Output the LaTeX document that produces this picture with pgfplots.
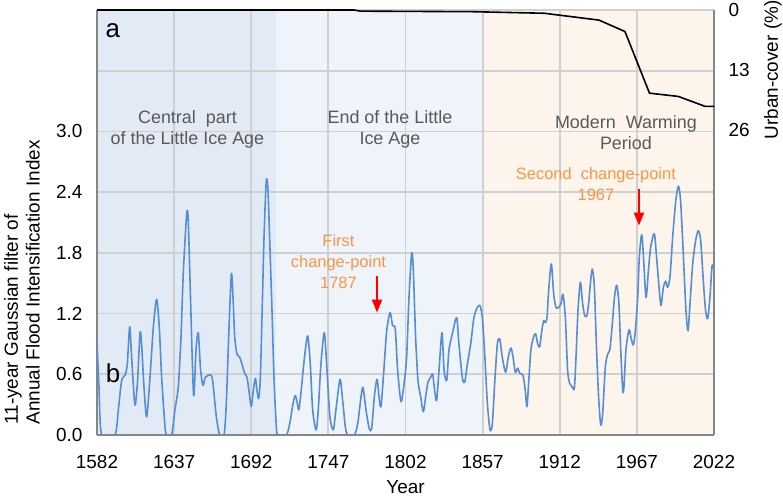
\documentclass[border=0pt]{standalone}
\usepackage{pgfplots}
\pgfplotsset{compat=1.18}
\usepackage{fontspec}
\setmainfont{Liberation Sans}
\usetikzlibrary{arrows.meta}
\definecolor{regA}{RGB}{226,234,245}
\definecolor{regB}{RGB}{239,243,250}
\definecolor{regC}{RGB}{253,244,236}
\definecolor{gridgray}{RGB}{208,208,208}
\definecolor{axisgray}{RGB}{134,134,134}
\definecolor{lineblue}{RGB}{85,142,213}
\definecolor{txtgray}{RGB}{89,89,89}
\definecolor{orangetxt}{RGB}{247,150,70}
\newcommand{\lab}{\fontsize{19}{22}\selectfont}
\begin{document}
\begin{tikzpicture}
\useasboundingbox (0,0) rectangle (783bp,498bp);
% background periods and grid
\begin{axis}[
  at={(97bp,63bp)}, anchor=south west,
  width=617bp, height=425bp, scale only axis,
  xmin=1582, xmax=2022, ymin=0, ymax=4.2,
  axis line style={draw=none},
  xtick={1582,1637,1692,1747,1802,1857,1912,1967,2022},
  ytick={0,0.6,1.2,1.8,2.4,3.0,3.6,4.2},
  xticklabels={}, yticklabels={},
  major tick length=0pt,
  xmajorgrids=true, ymajorgrids=true,
  major grid style={draw=gridgray, line width=1.8bp},
  axis on top,
]
\addplot[fill=regA, draw=none] coordinates {(1582,0) (1582,4.2) (1710,4.2) (1710,0)};
\addplot[fill=regB, draw=none] coordinates {(1710,0) (1710,4.2) (1857,4.2) (1857,0)};
\addplot[fill=regC, draw=none] coordinates {(1857,0) (1857,4.2) (2022,4.2) (2022,0)};
\end{axis}

\begin{axis}[
  at={(97bp,63bp)}, anchor=south west,
  width=617bp, height=425bp, scale only axis,
  xmin=1582, xmax=2022, ymin=0, ymax=4.2,
  axis x line*=bottom, axis y line*=left,
  axis line style={draw=axisgray, line width=1.3bp},
  xtick={1582,1637,1692,1747,1802,1857,1912,1967,2022},
  xticklabels={1582,1637,1692,1747,1802,1857,1912,1967,2022},
  ytick={0,0.6,1.2,1.8,2.4,3.0,3.6,4.2},
  yticklabels={0.0,0.6,1.2,1.8,2.4,3.0,{},{}},
  major tick length=0pt,
  tick label style={font=\lab, text=black},
  xticklabel style={yshift=-17bp},
  yticklabel style={xshift=-11bp},
  xlabel={Year},
  xlabel style={font=\lab, at={(axis description cs:0.5,-0.1224)}, anchor=center},
  ylabel={11-year Gaussian filter of\\Annual Flood Intensification Index},
  ylabel style={font=\lab, align=left, at={(axis description cs:-0.1216,0.0165)}, anchor=west},
]
\addplot[lineblue, line width=1.6bp, smooth, tension=0.45, line join=round] coordinates {
(1582,0.92) (1583.4,0.48) (1585.3,0) (1594.8,0) (1597.2,0.25) (1599.6,0.54) (1602,0.59) (1603.6,0.70)
(1605.3,1.07) (1606.7,0.77) (1609,0.30) (1610.8,0.51) (1612.7,1.01) (1613.8,0.90) (1615.5,0.48) (1617.4,0.18)
(1619.8,0.57) (1622.2,1.07) (1624.5,1.34) (1626.4,1.07) (1628.1,0.57) (1630.5,0.08) (1631.7,0) (1635.2,0)
(1637.6,0.25) (1640,0.48) (1641.9,0.97) (1643.6,1.62) (1646,2.19) (1647.1,2.11) (1648.8,1.30) (1650.9,0.39)
(1652.6,0.84) (1654.2,1.01) (1655.9,0.64) (1657.6,0.49) (1659.2,0.57) (1661.2,0.59) (1663.5,0.59) (1664.7,0.51)
(1667.1,0.18) (1669.5,0) (1672.6,0) (1674.2,0.31) (1675.9,0.97) (1677.8,1.59) (1679,1.36) (1680.2,0.97)
(1681.8,0.80) (1683.7,0.77) (1685.4,0.70) (1687.3,0.61) (1689,0.57) (1690.4,0.43) (1692,0.28) (1693.2,0.41)
(1694.9,0.56) (1696.1,0.44) (1697.3,0.36) (1698.5,0.57) (1699.9,1.30) (1701.1,1.95) (1702.7,2.51) (1703.9,2.43)
(1705.1,1.95) (1706.8,1.23) (1708.2,0.57) (1709.9,0.08) (1711,0) (1717,0) (1719.4,0.11) (1721.8,0.31)
(1723.4,0.39) (1724.9,0.31) (1726,0.25) (1727.7,0.45) (1729.6,0.72) (1732.2,0.98) (1734.1,0.70) (1735.8,0.25)
(1738.2,0.05) (1739.8,0.25) (1741.7,0.70) (1744.1,1.01) (1746,0.64) (1748.1,0.18) (1750.5,0.05) (1752.4,0.25)
(1755.3,0.55) (1757.2,0.34) (1759.1,0.08) (1760.7,0) (1765.5,0) (1767.9,0.11) (1770.3,0.38) (1771.7,0.47)
(1773.8,0.25) (1776.2,0.06) (1777.9,0.07) (1779.8,0.38) (1781.7,0.55) (1783.1,0.38) (1784.5,0.28) (1786.4,0.61)
(1788.6,1.03) (1791,1.21) (1792.8,1.08) (1794.7,1.05) (1796.4,0.64) (1798.8,0.33) (1801,0.51) (1802.8,0.77)
(1804.5,1.36) (1806.4,1.80) (1807.6,1.62) (1809.2,0.97) (1810.9,0.54) (1812.8,0.38) (1814.7,0.23) (1816.4,0.38)
(1818,0.52) (1819.9,0.57) (1821.4,0.60) (1822.8,0.44) (1824.2,0.34) (1825.9,0.64) (1828,1.01) (1829.5,0.64)
(1831.4,0.54) (1833,0.84) (1835.4,1.0) (1838.5,1.16) (1840.1,0.90) (1842.5,0.57) (1844.2,0.52) (1846.1,0.70)
(1848.5,0.90) (1850.8,1.16) (1853.2,1.26) (1855.1,1.28) (1856.8,1.16) (1858.5,0.80) (1860.4,0.31) (1862.3,0.05)
(1863.9,0.11) (1865.6,0.51) (1867.5,0.90) (1869.2,0.95) (1871,0.77) (1873.4,0.62) (1875.3,0.77) (1877.2,0.86)
(1878.7,0.77) (1880.3,0.62) (1882,0.66) (1883.4,0.61) (1885.8,0.59) (1887.4,0.44) (1888.6,0.28) (1889.8,0.51)
(1891.5,0.85) (1893.4,0.97) (1894.8,1.0) (1896.3,0.90) (1897.7,0.87) (1898.9,1.0) (1900.5,1.13) (1901.7,1.11)
(1902.9,1.16) (1904.1,1.43) (1906,1.69) (1907.7,1.39) (1909.3,1.26) (1911.2,1.26) (1912.9,1.30) (1914.3,1.39)
(1916,1.16) (1917.6,0.64) (1919.1,0.51) (1920.7,0.48) (1922.4,0.46) (1923.6,0.77) (1925,1.23) (1926.7,1.51)
(1928.3,1.30) (1929.8,1.18) (1931.4,1.18) (1932.6,1.30) (1933.8,1.49) (1935.2,1.64) (1936.7,1.46) (1938.1,0.90)
(1939.7,0.38) (1941.2,0.10) (1942.6,0.21) (1944.5,0.67) (1946.2,0.80) (1947.8,0.85) (1949.5,1.10) (1951,1.36)
(1952.6,1.48) (1954.2,1.30) (1955.4,0.87) (1956.9,0.44) (1957.8,0.48) (1959.2,0.84) (1961.4,1.04) (1963,0.95)
(1964.5,0.89) (1965.9,1.03) (1967.6,1.36) (1968.7,1.75) (1970.4,1.98) (1971.6,1.79) (1973.5,1.36) (1975.2,1.62)
(1976.8,1.85) (1979.4,1.99) (1981.1,1.75) (1982.8,1.46) (1984.2,1.28) (1985.9,1.46) (1987.5,1.52) (1988.9,1.46)
(1990.6,1.56) (1992.5,1.95) (1994.7,2.31) (1996.6,2.46) (1998.2,2.31) (2000.1,1.79) (2002,1.23) (2003.5,1.03)
(2004.9,1.30) (2006.8,1.69) (2008.9,1.92) (2010.8,2.02) (2012.5,1.92) (2014.4,1.52) (2016,1.23) (2017.5,1.15)
(2019.1,1.36) (2020.6,1.67) (2022,1.64)
};

\node[font=\fontsize{18}{20.5}\selectfont, text=txtgray, align=center] at (axis cs:1646.5,3.02) {Central\ \ part\\of the Little Ice Age};
\node[font=\fontsize{18}{20.5}\selectfont, text=txtgray, align=center] at (axis cs:1790.9,3.02) {End of the Little\\Ice Age};
\node[font=\fontsize{18}{20.5}\selectfont, text=txtgray, align=center] at (axis cs:1959.2,2.99) {Modern\ \ Warming\\Period};
\node[font=\fontsize{16.5}{21}\selectfont, text=orangetxt, align=center] at (axis cs:1754.2,1.71) {First\\change-point\\1787};
\node[font=\fontsize{16.5}{21}\selectfont, text=orangetxt, align=center] at (axis cs:1937.8,2.48) {Second\ \ change-point\\1967};
\draw[red, line width=2bp, -{Triangle[width=10bp,length=13bp]}] (axis cs:1781.7,1.57) -- (axis cs:1781.7,1.21);
\draw[red, line width=2bp, -{Triangle[width=10bp,length=13bp]}] (axis cs:1968.5,2.43) -- (axis cs:1968.5,2.07);
\node[font=\fontsize{26}{28}\selectfont] at (axis cs:1593.2,4.0) {a};
\node[font=\fontsize{26}{28}\selectfont] at (axis cs:1593.4,0.615) {b};
\end{axis}

\begin{axis}[
  at={(97bp,63bp)}, anchor=south west,
  width=617bp, height=425bp, scale only axis,
  xmin=1582, xmax=2022, ymin=0, ymax=92.3, y dir=reverse,
  axis x line=none, axis y line*=right,
  axis line style={draw=axisgray, line width=1.3bp},
  ytick={0,13,26}, yticklabels={0,13,26},
  major tick length=0pt,
  tick label style={font=\lab, text=black},
  yticklabel style={xshift=11bp},
  ylabel={Urban-cover (\%)},
  ylabel style={font=\lab, at={(axis description cs:1.0956,0.859)}, anchor=center},
  clip=false,
]
\addplot[black, line width=1.6bp] coordinates {
(1582,0) (1765,0) (1770,0.25) (1850,0.37) (1901,0.71) (1940,2.2) (1958.5,4.67) (1976,18.06) (1996.5,18.77) (2015.6,20.92) (2022,20.92)
};
\end{axis}
\end{tikzpicture}
\end{document}
